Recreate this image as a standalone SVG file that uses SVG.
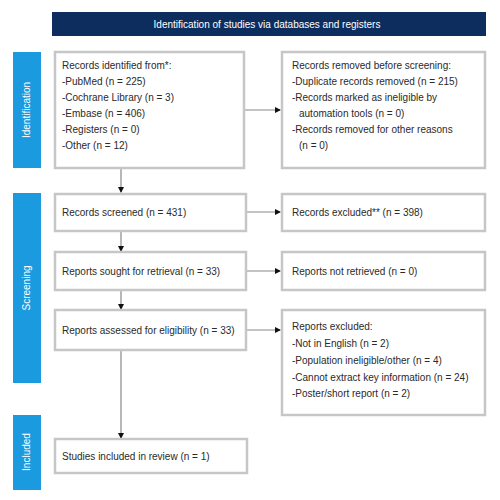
<svg xmlns="http://www.w3.org/2000/svg" width="500" height="500" viewBox="0 0 500 500">
<defs>
<marker id="ah" markerWidth="6" markerHeight="6" refX="5" refY="3" orient="auto" markerUnits="userSpaceOnUse">
<path d="M0,0 L6,3 L0,6 Z" fill="#111"/>
</marker>
</defs>
<style>
.box{fill:#fff;stroke:#c6c6c6;stroke-width:2.5}
.side{fill:#1b9ae0}
.t{font-family:"Liberation Sans",Arial,sans-serif;font-size:10px;fill:#2a2a2a}
.w{font-family:"Liberation Sans",Arial,sans-serif;font-size:10px;fill:#fff}
.c{stroke:#888;stroke-width:1.2;fill:none;marker-end:url(#ah)}
</style>
<rect width="500" height="500" fill="#fff"/>
<g id="header">
<rect x="52" y="12" width="434" height="24" fill="#0c2d5e"/>
<text class="w" x="267" y="27.5" text-anchor="middle">Identification of studies via databases and registers</text>
</g>
<g id="side-identification">
<rect class="side" x="13" y="52" width="28" height="116"/>
<text class="w" transform="translate(30,110) rotate(-90)" text-anchor="middle">Identification</text>
</g>
<g id="side-screening">
<rect class="side" x="13" y="193" width="28" height="190"/>
<text class="w" transform="translate(30,288) rotate(-90)" text-anchor="middle">Screening</text>
</g>
<g id="side-included">
<rect class="side" x="13" y="415" width="28" height="75"/>
<text class="w" transform="translate(30,452) rotate(-90)" text-anchor="middle">Included</text>
</g>
<g id="connectors">
<path class="c" d="M121,169 V192"/>
<path class="c" d="M121,231 V251"/>
<path class="c" d="M121,290 V309"/>
<path class="c" d="M121,350 V438"/>
<path class="c" d="M244,110 H280"/>
<path class="c" d="M247,212 H280"/>
<path class="c" d="M247,271 H280"/>
<path class="c" d="M247,330 H280"/>
</g>
<g id="identified">
<rect class="box" x="55" y="52" width="189" height="116"/>
<text class="t" x="62" y="69">Records identified from*:</text>
<text class="t" x="62" y="85">-PubMed (n = 225)</text>
<text class="t" x="62" y="101">-Cochrane Library (n = 3)</text>
<text class="t" x="62" y="117">-Embase (n = 406)</text>
<text class="t" x="62" y="133">-Registers (n = 0)</text>
<text class="t" x="62" y="149">-Other (n = 12)</text>
</g>
<g id="removed">
<rect class="box" x="282" y="52" width="203" height="116"/>
<text class="t" x="292" y="69">Records removed before screening:</text>
<text class="t" x="292" y="85">-Duplicate records removed (n = 215)</text>
<text class="t" x="292" y="101">-Records marked as ineligible by</text>
<text class="t" x="299" y="117">automation tools (n = 0)</text>
<text class="t" x="292" y="133">-Records removed for other reasons</text>
<text class="t" x="299" y="149">(n = 0)</text>
</g>
<g id="screened">
<rect class="box" x="55" y="194" width="191" height="37"/>
<text class="t" x="62" y="215.5">Records screened (n = 431)</text>
</g>
<g id="excluded">
<rect class="box" x="282" y="194" width="203" height="37"/>
<text class="t" x="292" y="215.5">Records excluded** (n = 398)</text>
</g>
<g id="sought">
<rect class="box" x="55" y="252" width="191" height="38"/>
<text class="t" x="62" y="274.5">Reports sought for retrieval (n = 33)</text>
</g>
<g id="notretrieved">
<rect class="box" x="282" y="252" width="203" height="38"/>
<text class="t" x="292" y="274.5">Reports not retrieved (n = 0)</text>
</g>
<g id="assessed">
<rect class="box" x="55" y="310" width="191" height="40"/>
<text class="t" x="62" y="333.5">Reports assessed for eligibility (n = 33)</text>
</g>
<g id="reportsexcluded">
<rect class="box" x="282" y="310" width="203" height="105"/>
<text class="t" x="292" y="330">Reports excluded:</text>
<text class="t" x="292" y="347">-Not in English (n = 2)</text>
<text class="t" x="292" y="364">-Population ineligible/other (n = 4)</text>
<text class="t" x="292" y="381">-Cannot extract key information (n = 24)</text>
<text class="t" x="292" y="397">-Poster/short report (n = 2)</text>
</g>
<g id="included">
<rect class="box" x="55" y="439" width="192" height="34"/>
<text class="t" x="62" y="459.5">Studies included in review (n = 1)</text>
</g>
</svg>
